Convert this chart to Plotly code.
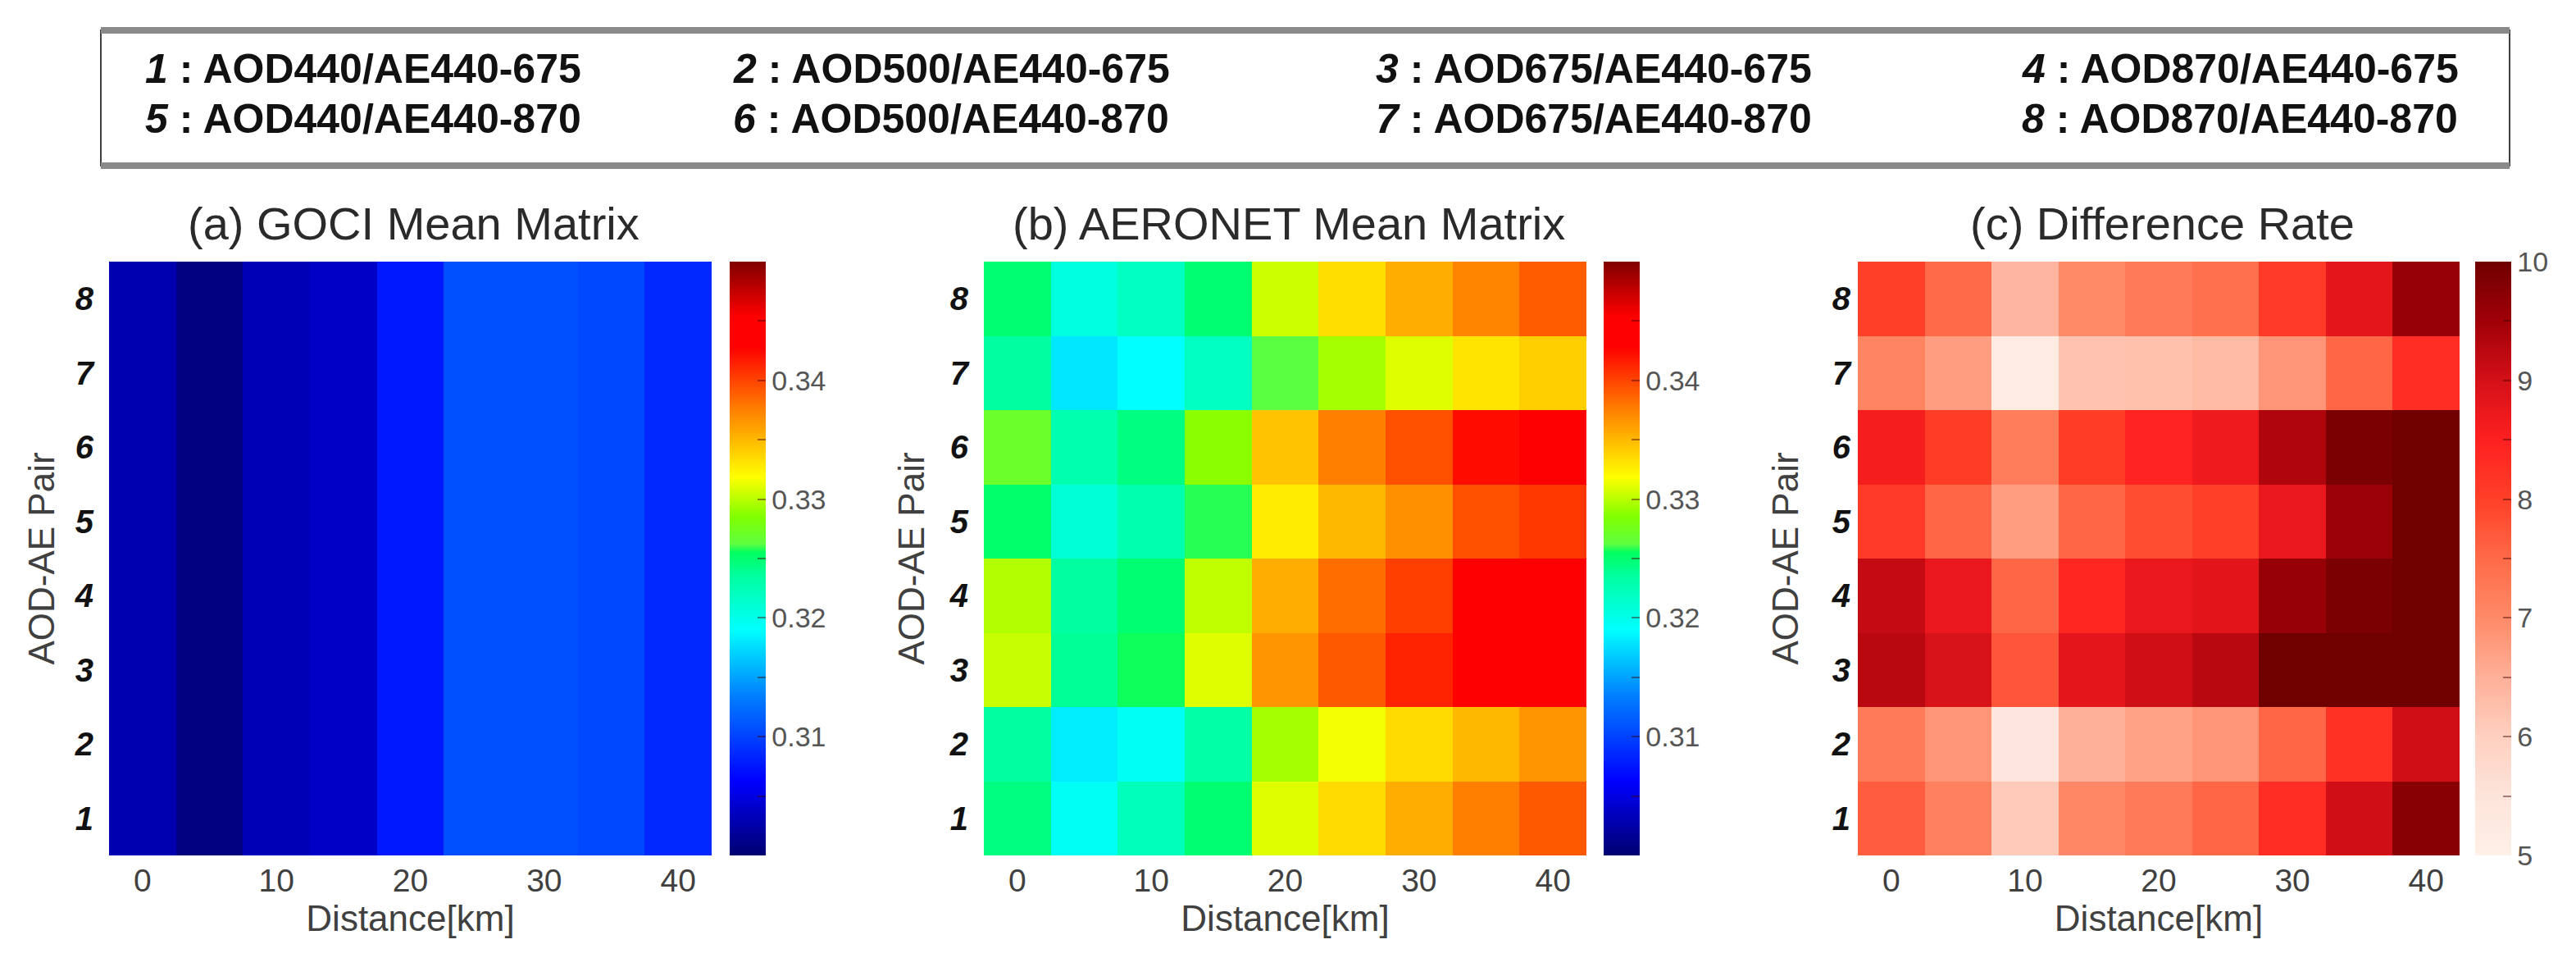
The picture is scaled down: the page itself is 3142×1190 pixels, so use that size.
import plotly.graph_objects as go

W = 3142
H = 1190
PAGE_MARGIN = 8  # browser body margin, everything below is in window pixels

distance = [0, 5, 10, 15, 20, 25, 30, 35, 40]
pair_ids = [1, 2, 3, 4, 5, 6, 7, 8]
pair_names = ['AOD440/AE440-675', 'AOD500/AE440-675', 'AOD675/AE440-675', 'AOD870/AE440-675',
              'AOD440/AE440-870', 'AOD500/AE440-870', 'AOD675/AE440-870', 'AOD870/AE440-870']

# rows go from pair 1 (bottom) to pair 8 (top)
goci_row = [0.3028, 0.3007, 0.3031, 0.3038, 0.3076, 0.3108, 0.3108, 0.3103, 0.3085]
goci_mean = [goci_row] * 8

aeronet_mean = [
    [0.3245, 0.3195, 0.3222, 0.3250, 0.3310, 0.3335, 0.3355, 0.3375, 0.3391],
    [0.3235, 0.3182, 0.3195, 0.3232, 0.3295, 0.3315, 0.3335, 0.3350, 0.3365],
    [0.3304, 0.3238, 0.3256, 0.3310, 0.3365, 0.3391, 0.3414, 0.3443, 0.3450],
    [0.3298, 0.3235, 0.3250, 0.3302, 0.3355, 0.3383, 0.3402, 0.3435, 0.3445],
    [0.3252, 0.3210, 0.3228, 0.3258, 0.3327, 0.3350, 0.3368, 0.3395, 0.3405],
    [0.3270, 0.3228, 0.3245, 0.3288, 0.3345, 0.3375, 0.3395, 0.3423, 0.3440],
    [0.3235, 0.3180, 0.3190, 0.3220, 0.3262, 0.3295, 0.3310, 0.3330, 0.3340],
    [0.3250, 0.3205, 0.3220, 0.3250, 0.3305, 0.3333, 0.3355, 0.3373, 0.3390],
]

diff_rate = [
    [7.65, 7.15, 6.10, 7.05, 7.25, 7.55, 8.30, 9.05, 9.75],
    [7.25, 6.85, 5.40, 6.50, 6.70, 6.85, 7.55, 8.25, 9.05],
    [9.25, 8.95, 7.75, 8.80, 9.05, 9.25, 10.0, 10.0, 10.0],
    [9.15, 8.75, 7.55, 8.40, 8.75, 8.85, 9.60, 9.90, 10.0],
    [8.10, 7.55, 6.75, 7.55, 7.85, 8.00, 8.75, 9.55, 10.0],
    [8.60, 8.05, 7.20, 8.05, 8.45, 8.70, 9.35, 9.90, 10.0],
    [7.10, 6.75, 5.20, 6.20, 6.25, 6.35, 6.85, 7.55, 8.30],
    [8.00, 7.50, 6.40, 7.00, 7.25, 7.40, 8.10, 8.80, 9.60],
]

panel_titles = ['(a) GOCI Mean Matrix', '(b) AERONET Mean Matrix', '(c) Difference Rate']

jet_like = [[0, '#000070'], [0.125, '#0000ff'], [0.27, '#0080ff'], [0.38, '#00ffff'],
            [0.47, '#00ffa0'], [0.51, '#00ff60'], [0.525, '#60ff40'], [0.57, '#80ff00'],
            [0.637, '#ffff00'], [0.75, '#ff8000'], [0.856, '#ff0000'], [0.906, '#ff0000'],
            [1, '#800000']]
reds_like = [[0, '#fff0e8'], [0.1, '#fde4da'], [0.2, '#ffd0c0'], [0.3, '#ffb098'],
             [0.4, '#ff8a68'], [0.5, '#ff6a48'], [0.6, '#ff4028'], [0.7, '#ff2020'],
             [0.8, '#d41018'], [0.9, '#a00008'], [1, '#700000']]

GREY = '#404040'
FONT = 'Liberation Sans'


def px(x):
    return (x - PAGE_MARGIN) / W


def py(y):
    return 1 - (y - PAGE_MARGIN) / H


# left, right, colorbar left
panels = [(133, 868, 890), (1200, 1935, 1956), (2266, 3000, 3019)]
top, bottom = 319, 1043
y_label_gap = [18, 18, 8]
y_title_gap = [10, 16, 26]

jet_ticks = [0.305, 0.31, 0.315, 0.32, 0.325, 0.33, 0.335, 0.34, 0.345]
jet_text = ['', '0.31', '', '0.32', '', '0.33', '', '0.34', '']
red_ticks = [5, 5.5, 6, 6.5, 7, 7.5, 8, 8.5, 9, 9.5, 10]
red_text = ['5', '', '6', '', '7', '', '8', '', '9', '', '10']

matrices = [goci_mean, aeronet_mean, diff_rate]
scales = [jet_like, jet_like, reds_like]
ranges = [(0.30, 0.35), (0.30, 0.35), (5, 10)]
bar_ticks = [(jet_ticks, jet_text), (jet_ticks, jet_text), (red_ticks, red_text)]

fig = go.Figure()
layout_axes = {}
for i in range(3):
    left, right, bar_left = panels[i]
    suffix = '' if i == 0 else str(i + 1)
    fig.add_trace(go.Heatmap(
        x=distance, y=pair_ids, z=matrices[i],
        xaxis='x' + suffix, yaxis='y' + suffix,
        colorscale=scales[i], zmin=ranges[i][0], zmax=ranges[i][1],
        colorbar=dict(
            x=px(bar_left), xanchor='left', xpad=0, ypad=0,
            y=py((top + bottom) / 2), yanchor='middle',
            len=(bottom - top) / H, lenmode='fraction',
            thickness=44, thicknessmode='pixels', outlinewidth=0,
            tickmode='array', tickvals=bar_ticks[i][0], ticktext=bar_ticks[i][1],
            ticks='inside', ticklen=10, tickwidth=2, tickcolor='rgba(60,0,0,0.45)',
            tickfont=dict(family=FONT, size=34, color='#555555'),
        ),
    ))
    layout_axes['xaxis' + suffix] = dict(
        domain=[px(left), px(right)], range=[-2.5, 42.5], anchor='y' + suffix,
        tickmode='array', tickvals=[0, 10, 20, 30, 40], showgrid=False, zeroline=False, ticks='',
        tickfont=dict(family=FONT, size=39, color=GREY), ticklabelstandoff=4,
        title=dict(text='Distance[km]', font=dict(family=FONT, size=44, color=GREY), standoff=10),
    )
    layout_axes['yaxis' + suffix] = dict(
        domain=[py(bottom), py(top)], range=[0.5, 8.5], anchor='x' + suffix,
        tickmode='array', tickvals=pair_ids, showgrid=False, zeroline=False, ticks='',
        tickfont=dict(family=FONT, size=40, color='#111111', weight='bold', style='italic'),
        ticklabelstandoff=y_label_gap[i],
        title=dict(text='AOD-AE Pair', font=dict(family=FONT, size=44, color=GREY), standoff=y_title_gap[i]),
    )

annotations = []
for i in range(3):
    annotations.append(dict(
        text=panel_titles[i], xref='paper', yref='paper',
        x=px((panels[i][0] + panels[i][1]) / 2 + 4), y=py(272), xanchor='center', yanchor='middle',
        showarrow=False, font=dict(family=FONT, size=56, color='#2a2a2a'),
    ))

col_x = [175, 892, 1676, 2464]
row_y = [84, 145]
for k in range(8):
    annotations.append(dict(
        text='<b><i>%d</i> : %s</b>' % (pair_ids[k], pair_names[k]),
        xref='paper', yref='paper', x=px(col_x[k % 4]), y=py(row_y[k // 4]),
        xanchor='left', yanchor='middle', showarrow=False, font=dict(family=FONT, size=50, color='#111111'),
    ))

box_left, box_right = px(123), px(3061)
box_top, box_bottom = py(37), py(202)
shapes = [
    dict(type='rect', xref='paper', yref='paper', x0=box_left, x1=box_right, y0=box_bottom, y1=box_top,
         line=dict(color='#404040', width=2)),
    dict(type='line', xref='paper', yref='paper', x0=box_left, x1=box_right, y0=box_top, y1=box_top,
         line=dict(color='#8a8a8a', width=8)),
    dict(type='line', xref='paper', yref='paper', x0=box_left, x1=box_right, y0=box_bottom, y1=box_bottom,
         line=dict(color='#8a8a8a', width=8)),
]

fig.update_layout(
    width=W, height=H, margin=dict(l=0, r=0, t=0, b=0),
    paper_bgcolor='white', plot_bgcolor='white',
    annotations=annotations, shapes=shapes, **layout_axes,
)
fig.write_html("out.html")
